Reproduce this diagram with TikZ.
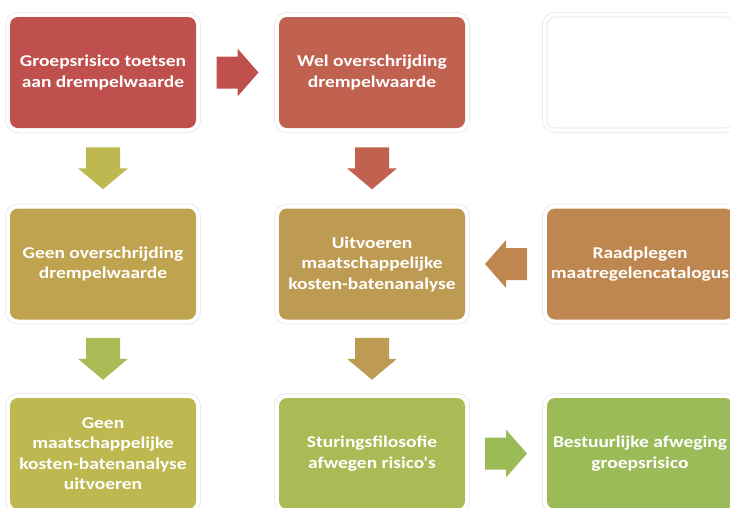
\documentclass[tikz,border=0pt]{standalone}
\usepackage{fontspec}
\setmainfont{Carlito}
\newfontfamily\boxfont[FakeStretch=1.18]{Carlito}
\usetikzlibrary{calc}
\definecolor{cA}{HTML}{C0504D}
\definecolor{cB}{HTML}{C1614F}
\definecolor{cD}{HTML}{BFA34F}
\definecolor{cE}{HTML}{BE9B52}
\definecolor{cF}{HTML}{BE8750}
\definecolor{cG}{HTML}{BDB84F}
\definecolor{cH}{HTML}{AABB55}
\definecolor{cI}{HTML}{9BBB59}
\tikzset{
  box/.style={rounded corners=8pt, minimum width=186pt, minimum height=111pt,
    align=center, text=white, font=\boxfont\fontsize{16.5}{20.5}\selectfont\bfseries,
    preaction={draw=black!8, line width=10pt},
    preaction={draw=white, line width=8pt}},
}
\newcommand{\harrow}[3]{% center, direction (1 right / -1 left), colour
  \fill[#3] ($(#1)+(-21*#2,-16)$) -- ($(#1)+(0,-16)$) -- ($(#1)+(0,-24)$) -- ($(#1)+(21*#2,0)$)
    -- ($(#1)+(0,24)$) -- ($(#1)+(0,16)$) -- ($(#1)+(-21*#2,16)$) -- cycle;}
\newcommand{\varrow}[2]{% center, colour
  \fill[#2] ($(#1)+(-17,-21)$) -- ($(#1)+(17,-21)$) -- ($(#1)+(17,0)$) -- ($(#1)+(25,0)$)
    -- ($(#1)+(0,21)$) -- ($(#1)+(-25,0)$) -- ($(#1)+(-17,0)$) -- cycle;}
\begin{document}
\begin{tikzpicture}[x=1pt,y=-1pt]
\useasboundingbox (0,0) rectangle (730,507);
\node[box, fill=cA] (b1) at (103,72.5) {Groepsrisico toetsen\\aan drempelwaarde};
\node[box, fill=cB] (b2) at (372,72.5) {Wel overschrijding\\drempelwaarde};
\node[box, fill=white, draw=black!12, line width=0.6pt] (b3) at (640,72.5) {};
\node[box, fill=cD] (b4) at (103,264) {Geen overschrijding\\drempelwaarde};
\node[box, fill=cE] (b5) at (372,264) {Uitvoeren\\maatschappelijke\\kosten-batenanalyse};
\node[box, fill=cF] (b6) at (640,264) {Raadplegen\\maatregelencatalogus};
\node[box, fill=cG] (b7) at (103,453.5) {Geen\\maatschappelijke\\kosten-batenanalyse\\uitvoeren};
\node[box, fill=cH] (b8) at (372,453.5) {Sturingsfilosofie\\afwegen risico's};
\node[box, fill=cI] (b9) at (640,453.5) {Bestuurlijke afweging\\groepsrisico};
\coordinate (a1) at ($(b1.east)!0.5!(b2.west)$);
\coordinate (a2) at ($(b1.south)!0.5!(b4.north)$);
\coordinate (a3) at ($(b2.south)!0.5!(b5.north)$);
\coordinate (a4) at ($(b5.east)!0.5!(b6.west)$);
\coordinate (a5) at ($(b4.south)!0.5!(b7.north)$);
\coordinate (a6) at ($(b5.south)!0.5!(b8.north)$);
\coordinate (a7) at ($(b8.east)!0.5!(b9.west)$);
\harrow{a1}{1}{cA}
\varrow{a2}{cG}
\varrow{a3}{cB}
\harrow{a4}{-1}{cF}
\varrow{a5}{cH}
\varrow{a6}{cE}
\harrow{a7}{1}{cI}
\end{tikzpicture}
\end{document}
